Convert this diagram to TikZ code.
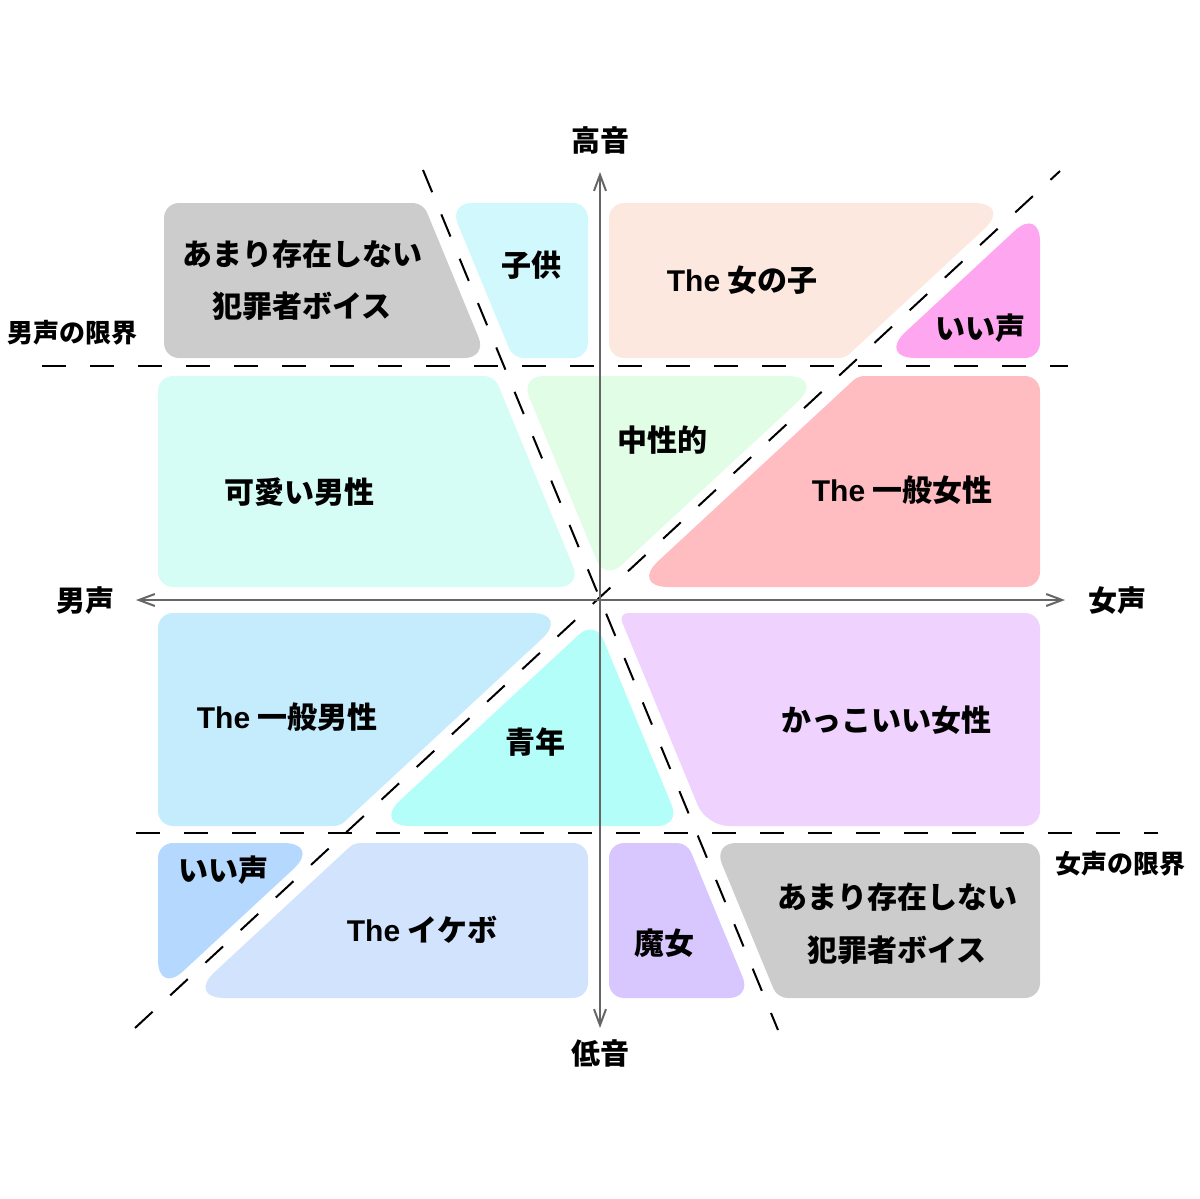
\documentclass[tikz,border=0pt]{standalone}
\usepackage{fontspec}
\setmainfont{Noto Sans CJK JP}
\newfontfamily\latfont{Liberation Sans}
\usetikzlibrary{arrows.meta}
\definecolor{cGray}{HTML}{CCCCCC}
\definecolor{cKodomo}{HTML}{D1F9FD}
\definecolor{cOnna}{HTML}{FDE8E0}
\definecolor{cIiPink}{HTML}{FFA6F0}
\definecolor{cKawaii}{HTML}{D5FDF6}
\definecolor{cChusei}{HTML}{E2FDE6}
\definecolor{cJosei}{HTML}{FFBDC1}
\definecolor{cDansei}{HTML}{C4ECFC}
\definecolor{cSeinen}{HTML}{B3FEF9}
\definecolor{cKakko}{HTML}{F0D2FE}
\definecolor{cIiBlue}{HTML}{B5D9FE}
\definecolor{cIkebo}{HTML}{D2E3FE}
\definecolor{cMajo}{HTML}{D8C7FE}
\definecolor{axisgray}{HTML}{666666}
\tikzset{
  k90/.style={rounded corners=15pt},
  k68/.style={rounded corners=22.4pt},
  k112/.style={rounded corners=10pt},
  k43/.style={rounded corners=38.3pt},
  k137/.style={rounded corners=5.9pt},
  k70/.style={rounded corners=21.6pt},
  k47/.style={rounded corners=34.3pt},
  lbl/.style={font=\fontsize{30}{36}\selectfont\bfseries, text height=22.8pt, text depth=0pt, inner sep=0pt},
  small/.style={font=\fontsize{26}{30}\selectfont\bfseries, text height=19.8pt, text depth=0pt, inner sep=0pt},
  axlbl/.style={font=\fontsize{29}{34}\selectfont\bfseries, text height=22pt, text depth=0pt, inner sep=0pt},
  dline/.style={line width=2pt, dash pattern=on 24pt off 24pt},
  axisline/.style={line width=2pt, draw=axisgray, {Straight Barb[length=16pt,width=12pt]}-{Straight Barb[length=16pt,width=12pt]}}
}
\begin{document}
\begin{tikzpicture}[x=1pt,y=-1pt]
\useasboundingbox (0,0) rectangle (1200,1199);
% regions (each starts at the middle of its first edge; the option before "-- (P)" rounds the corner at P)
\fill[cGray]   (293,203) [k112] -- (423.1,203) [k68] -- (487.1,358) [k90] -- (164,358) [k90] -- (164,203) [k90] -- cycle;
\fill[cKodomo] (518,203) [k90] -- (588,203) [k90] -- (588,358) [k112] -- (513.1,358) [k68] -- (449.1,203) [k90] -- cycle;
\fill[cOnna]   (810,203) [k43] -- (1012.3,203) [k137] -- (845,358) [k90] -- (609,358) [k90] -- (609,203) [k90] -- cycle;
\fill[cIiPink] (1040,283) [k90] -- (1040,358) [k43] -- (877.4,358) [k47] -- (1040,207.3) [k90] -- cycle;
\fill[cKawaii] (326,376) [k112] -- (494.5,376) [k68] -- (581.6,587) [k90] -- (158,587) [k90] -- (158,376) [k90] -- cycle;
\fill[cChusei] (673,376) [k43] -- (825.6,376) [k70] -- (604.9,580.4) [k68] -- (520.5,376) [k90] -- cycle;
\fill[cJosei]  (949,376) [k90] -- (1040,376) [k90] -- (1040,587) [k43] -- (630.2,587) [k137] -- (858,376) [k90] -- cycle;
\fill[cDansei] (364,613) [k43] -- (569.8,613) [k137] -- (339.9,826) [k90] -- (158,826) [k90] -- (158,613) [k90] -- cycle;
\fill[cSeinen] (637.7,722.8) [k68] -- (680.3,826) [k43] -- (372.3,826) [k70] -- (595.1,619.6) [k90] -- cycle;
\fill[cKakko]  (829,613) [k90] -- (1040,613) [k90] -- (1040,826) [k68] -- (706.3,826) [k112] -- (618.4,613) [k90] -- cycle;
\fill[cIiBlue] (240,843) [k43] -- (321.5,843) [k47] -- (158,994.5) [k90] -- (158,843) [k90] -- cycle;
\fill[cIkebo]  (471,843) [k90] -- (588,843) [k90] -- (588,998) [k43] -- (186.6,998) [k137] -- (353.9,843) [k90] -- cycle;
\fill[cMajo]   (648,843) [k112] -- (687.3,843) [k68] -- (751.3,998) [k90] -- (609,998) [k90] -- (609,843) [k90] -- cycle;
\fill[cGray]   (876,843) [k90] -- (1040,843) [k90] -- (1040,998) [k112] -- (777.3,998) [k68] -- (713.3,843) [k90] -- cycle;
% line end points
\coordinate (hu1) at (42,366);   \coordinate (hu2) at (1068,366);
\coordinate (hl1) at (136,833);  \coordinate (hl2) at (1158,833);
\coordinate (d1a) at (135,1028); \coordinate (d1b) at (1060,171);
\coordinate (s1a) at (423,170);  \coordinate (s1b) at (778,1030);
\coordinate (axL) at (136,600);  \coordinate (axR) at (1065,600);
\coordinate (axT) at (600,172);  \coordinate (axB) at (600,1028);
% dashed lines
\draw[dline] (hu1) -- (hu2);
\draw[dline] (hl1) -- (hl2);
\draw[dline] (d1a) -- (d1b);
\draw[dline] (s1a) -- (s1b);
% axes
\draw[axisline] (axL) -- (axR);
\draw[axisline] (axB) -- (axT);
% axis labels
\node[axlbl] (high) at (600,140) {高音};
\node[axlbl] (low) at (600,1053) {低音};
\node[axlbl] (male) at (85,600) {男声};
\node[axlbl] (female) at (1117,600) {女声};
\node[small] (mlimit) at (72,333) {男声の限界};
\node[small] (flimit) at (1120,864) {女声の限界};
% region labels
\node[lbl] (g1a) at (302,254) {あまり存在しない};
\node[lbl] (g1b) at (302,306) {犯罪者ボイス};
\node[lbl] (kodomo) at (531,265) {子供};
\node[lbl] (onna) at (742,280) {{\latfont The} 女の子};
\node[lbl] (iipink) at (980,328) {いい声};
\node[lbl] (kawaii) at (299,492) {可愛い男性};
\node[lbl] (chusei) at (662,440) {中性的};
\node[lbl] (josei) at (902,490) {{\latfont The} 一般女性};
\node[lbl] (dansei) at (287,717) {{\latfont The} 一般男性};
\node[lbl] (seinen) at (535,742) {青年};
\node[lbl] (kakko) at (886,720) {かっこいい女性};
\node[lbl] (iiblue) at (223,870) {いい声};
\node[lbl] (ikebo) at (422,930) {{\latfont The} イケボ};
\node[lbl] (majo) at (664,943) {魔女};
\node[lbl] (g2a) at (897,897) {あまり存在しない};
\node[lbl] (g2b) at (897,950) {犯罪者ボイス};
\end{tikzpicture}
\end{document}
